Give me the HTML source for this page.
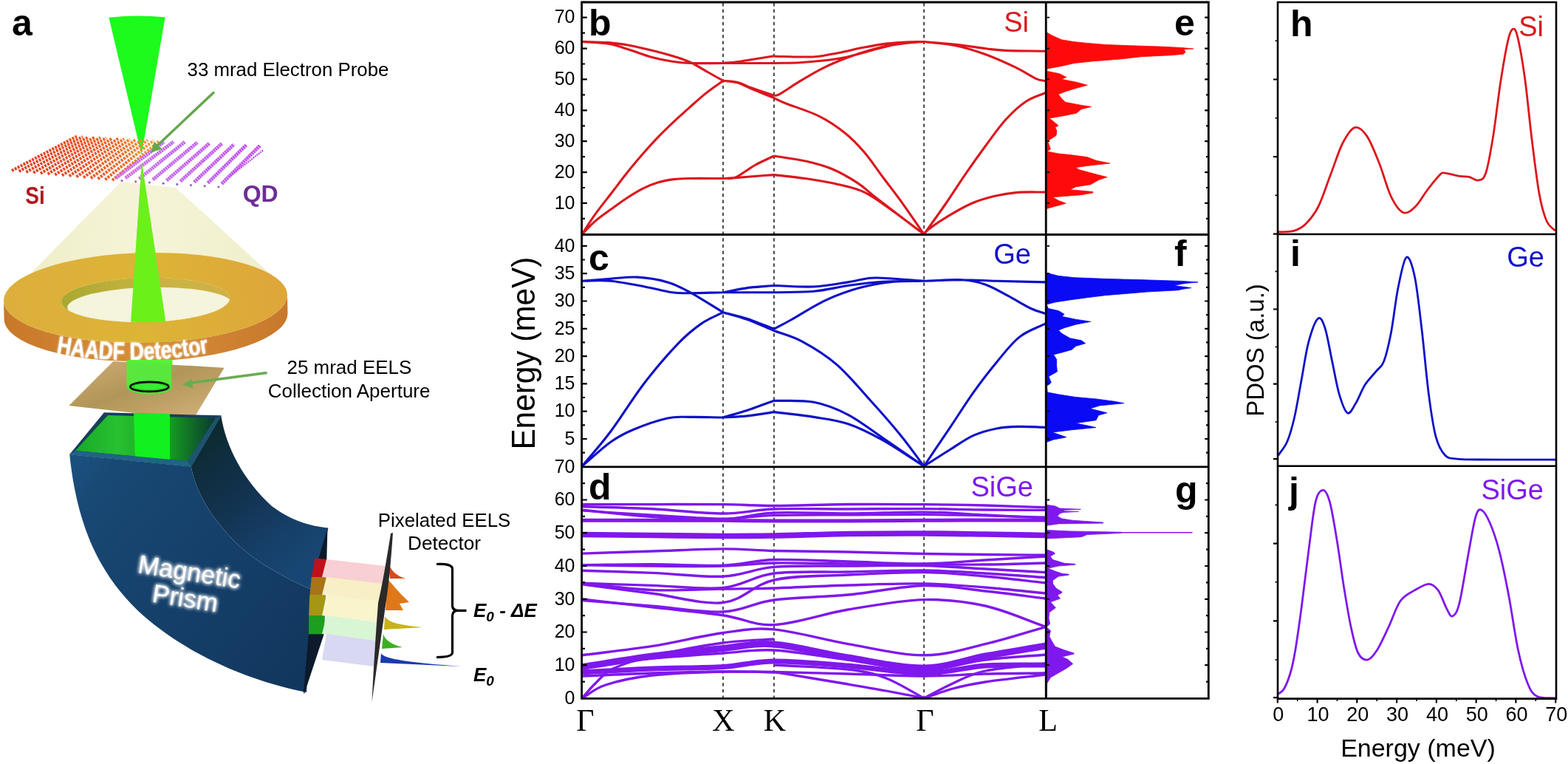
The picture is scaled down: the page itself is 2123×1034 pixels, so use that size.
<!DOCTYPE html>
<html><head><meta charset="utf-8"><title>Figure</title>
<style>html,body{margin:0;padding:0;background:#fff;}body{width:2123px;height:1034px;overflow:hidden;}svg{display:block;}</style>
</head><body>
<svg width="2123" height="1034" viewBox="0 0 2123 1034">
<rect width="2123" height="1034" fill="#fff"/>
<line x1="979" y1="4" x2="979" y2="944" stroke="#000" stroke-width="1.4" stroke-dasharray="4.5 4.1"/>
<line x1="1048" y1="4" x2="1048" y2="944" stroke="#000" stroke-width="1.4" stroke-dasharray="4.5 4.1"/>
<line x1="1251" y1="4" x2="1251" y2="944" stroke="#000" stroke-width="1.4" stroke-dasharray="4.5 4.1"/>
<path d="M788,317C794.1,311 799.7,304.6 806.3,298.9C812.9,293.2 820.5,288.1 827.6,283C834.7,277.9 841.7,272.6 848.8,268C855.9,263.4 863,258.8 870.1,255.3C877.2,251.8 884.3,248.9 891.4,246.8C898.5,244.7 905.6,243.5 912.7,242.6C919.8,241.7 922.9,241.7 933.9,241.5C944.9,241.3 964,241.5 979,241.5M788,317C794.1,307.8 799.7,298.6 806.3,289.4C812.9,280.2 820.5,270.9 827.6,261.7C834.7,252.5 841.7,242.9 848.8,234C855.9,225.1 863,216.7 870.1,208.5C877.2,200.3 884.3,192.5 891.4,185.1C898.5,177.7 905.6,171 912.7,164.3C919.8,157.7 926.8,151.5 933.9,145.2C941,138.9 947.7,132.6 955.2,126.6C962.7,120.6 971.1,115 979,109.2M788,56.4C799.9,56.8 812.9,56.8 823.7,57.6C834.5,58.5 843,59.8 852.7,61.5C862.4,63.2 872,65.6 881.7,68C891.4,70.4 901.8,73 910.7,75.8C919.6,78.5 927,80.8 935,84.5C943,88.2 951.7,93.9 959,98C966.3,102.1 972.3,105.5 979,109.2M788,56.4C799.9,57.4 812.9,57.4 823.7,59.3C834.5,61.1 843,64.5 852.7,67.5C862.4,70.5 872,74.6 881.7,77.2C891.4,79.8 901.8,81.9 910.7,83.3C919.6,84.7 923.6,85.1 935,85.5C946.4,85.9 964.3,85.5 979,85.5M979,241.5C984.7,241.2 988.8,241.1 996,240.6C1003.2,240.1 1013.3,239.2 1022,238.5C1030.7,237.8 1039.3,237.2 1048,236.6M979,241.5C984.7,241 988.8,243 996,240C1003.2,237 1013.5,228.3 1022.2,223.5C1030.9,218.7 1039.4,215.2 1048,211M979,109.2C985.7,110 992.4,109.9 999,111.6C1005.6,113.3 1010.2,116.3 1018.4,119.3C1026.6,122.3 1038.1,126 1048,129.4M979,109.2C985.7,110.1 992.4,110.1 999,112C1005.6,113.9 1010.2,117.1 1018.4,120.5C1026.6,123.9 1038.1,128.6 1048,132.6M979,85.5L1048,85.5M979,85.5C985.7,84.8 991.6,84.5 999,83.5C1006.4,82.5 1015,81 1023.2,79.7C1031.4,78.4 1039.7,77.1 1048,75.8M1048,76C1052,76.2 1050.7,76.4 1060,76.5C1069.3,76.6 1091.2,77.5 1103.8,76.7C1116.4,75.9 1125,73.4 1135.7,71.4C1146.4,69.4 1157.1,66.5 1167.7,64.5C1178.3,62.5 1189,60.4 1199.6,59.1C1210.2,57.8 1222.9,57.1 1231.5,56.7C1240.1,56.3 1244.5,56.6 1251,56.5M1048,85.5C1059.5,85.2 1071.5,85.3 1082.6,84.7C1093.7,84.1 1103.9,83.2 1114.5,82C1125.1,80.8 1135.8,79.4 1146.4,77.2C1157,75 1167.7,71.5 1178.3,68.7C1188.9,66 1199.6,62.7 1210.2,60.7C1220.8,58.8 1235.3,57.7 1242.1,57C1248.9,56.3 1248,56.7 1251,56.5M1048,129.4C1050.7,128.7 1050.2,130.4 1056,127.2C1061.8,124 1072.8,116.1 1082.6,110.2C1092.3,104.3 1103.9,97.4 1114.5,92.1C1125.1,86.8 1135.8,82.4 1146.4,78.3C1157,74.2 1167.7,70.7 1178.3,67.7C1188.9,64.7 1199.6,62 1210.2,60.2C1220.8,58.4 1235.3,57.6 1242.1,57C1248.9,56.4 1248,56.7 1251,56.5M1048,132.6C1053.3,135.1 1053.8,135.9 1064,140C1074.2,144.1 1096,150.7 1109.3,157.4C1122.6,164.1 1133.8,171.9 1144,180C1154.2,188.1 1161.5,195.9 1170.2,206.1C1178.9,216.3 1187.6,229.4 1196.3,241C1205,252.6 1213.3,263.1 1222.4,275.8C1231.5,288.5 1241.5,303.3 1251,317M1048,211C1062.6,213.4 1078.7,215.3 1091.8,218.3C1104.9,221.3 1115.1,223.9 1126.7,228.8C1138.3,233.7 1151.3,241.2 1161.5,247.9C1171.7,254.6 1172.7,257.3 1187.6,268.8C1202.5,280.3 1229.9,300.9 1251,317M1048,236.6C1062.6,238.3 1077.2,239.6 1091.8,241.8C1106.4,244 1122.3,246.6 1135.4,249.7C1148.5,252.8 1158.6,254.6 1170.2,260.1C1181.8,265.6 1191.5,273.2 1205,282.7C1218.5,292.2 1235.7,305.6 1251,317M1251,56.5C1265.4,57.8 1280.1,58.8 1294.1,60.3C1308,61.8 1323.4,64.3 1334.7,65.7C1346,67.1 1348.2,67.8 1361.8,68.4C1375.3,69 1397.9,68.9 1416,69.2M1251,56.5C1265.4,58.2 1280.1,58.8 1294.1,61.7C1308,64.6 1321.2,68.8 1334.7,73.8C1348.2,78.8 1364.1,86 1375.4,91.4C1386.7,96.8 1395.6,103.2 1402.4,106.3C1409.2,109.4 1411.5,108.6 1416,109.8M1251,317C1260.9,303.2 1271.1,289.2 1280.6,275.5C1290,261.8 1298.7,248 1307.7,234.9C1316.7,221.8 1325.7,209.2 1334.7,197C1343.7,184.8 1352.8,171.7 1361.8,161.8C1370.8,151.9 1379.9,143.6 1388.9,137.5C1397.9,131.4 1407,129.4 1416,125.3M1251,317C1253.3,314.6 1252.8,313.6 1258,309.7C1263.2,305.8 1272.7,299.2 1282,293.6C1291.3,288 1303.3,280.7 1314,276C1324.7,271.3 1335.3,268.2 1346,265.6C1356.7,263 1366.3,261.3 1378,260.4C1389.7,259.5 1403.3,260.1 1416,260" fill="none" stroke="#dc161e" stroke-width="3.1" stroke-linejoin="round"/>
<path d="M788,631C800.8,620.2 814.8,606.8 826.4,598.5C838,590.2 844.5,586.9 857.4,581.5C870.3,576.1 890.9,568.9 903.8,566C916.7,563.1 922.2,564.6 934.7,564.4C947.2,564.2 964.2,564.8 979,565M788,631C800.8,615.5 812.3,603.3 826.4,584.5C840.5,565.7 857.3,538.1 872.8,518C888.3,497.9 906.3,477.3 919.2,463.9C932.1,450.5 940.2,444.5 950.2,437.6C960.2,430.7 969.4,427.7 979,422.7M788,380.3C800.8,379.3 813.8,378.1 826.4,377.2C839,376.3 850.6,374.3 863.5,375.1C876.4,375.9 891.9,378.4 903.8,381.9C915.7,385.3 922.2,389 934.7,395.8C947.2,402.6 964.2,413.7 979,422.7M788,380.3C800.8,380.3 812.3,379 826.4,380.3C840.5,381.6 858.9,385.4 872.8,388C886.7,390.6 899.7,394.4 910,395.8C920.3,397.2 923.2,396.7 934.7,396.7C946.2,396.7 964.2,396.1 979,395.8M979,395.8C990,393.7 1000.5,391.2 1012,389.6C1023.5,388.1 1036,387.5 1048,386.5M979,395.8L1048,395.8M979,422.7C990,425.6 1000.5,427.6 1012,431.4C1023.5,435.2 1036,440.7 1048,445.3M979,422.7C990,426 1000.5,428.4 1012,432.5C1023.5,436.6 1036,442.5 1048,447.5M979,565C990,564.3 1000.5,564.1 1012,562.9C1023.5,561.7 1036,559.4 1048,557.6M979,565C990,561.7 1000.5,559 1012,555.2C1023.5,551.4 1036,546.5 1048,542.2M1048,386.5C1066,387 1085.2,388.8 1101.9,388C1118.6,387.2 1135.4,383.8 1148.3,381.9C1161.2,379.9 1168.9,377.1 1179.2,376.3C1189.5,375.5 1198.2,376.5 1210.2,377.2C1222.2,377.9 1237.4,379.3 1251,380.3M1048,395.8C1066,395.3 1085.2,395.9 1101.9,394.3C1118.6,392.8 1132.8,388.7 1148.3,386.5C1163.8,384.3 1177.6,382.3 1194.7,381.3C1211.8,380.3 1232.2,380.6 1251,380.3M1048,445.3C1055.6,441.2 1059.3,439.4 1070.9,433C1082.5,426.6 1101.9,413.8 1117.4,406.6C1132.9,399.4 1148.3,393.8 1163.8,389.6C1179.3,385.4 1195.7,382.9 1210.2,381.3C1224.7,379.8 1237.4,380.6 1251,380.3M1048,447.5C1060.8,452.4 1072.3,454.7 1086.4,462.3C1100.5,469.9 1117.3,479.9 1132.8,493.3C1148.3,506.7 1164.8,526.8 1179.2,542.8C1193.7,558.8 1207.5,574.5 1219.5,589.2C1231.5,603.9 1240.5,617.1 1251,631M1048,542.2C1066,542.9 1085.2,541.1 1101.9,544.3C1118.6,547.5 1132.8,553.3 1148.3,561.3C1163.8,569.3 1177.6,580.7 1194.7,592.3C1211.8,603.9 1232.2,618.1 1251,631M1048,557.6C1066,559.9 1085.2,561.7 1101.9,564.4C1118.6,567.1 1132.8,568.5 1148.3,573.7C1163.8,578.9 1177.6,585.9 1194.7,595.4C1211.8,604.9 1232.2,619.1 1251,631M1251,380.3C1268.3,379.8 1286.6,378.8 1303,378.8C1319.4,378.8 1330.6,379.8 1349.4,380.3C1368.2,380.8 1393.8,381.4 1416,381.9M1251,380.3C1268.3,379.8 1289.2,378 1303,378.8C1316.8,379.6 1323.6,381.4 1333.9,385C1344.2,388.6 1354.6,395 1364.9,400.4C1375.2,405.8 1387.3,413.5 1395.8,417.5C1404.3,421.5 1409.3,422.2 1416,424.6M1251,631C1263.2,612.9 1276.2,593.6 1287.5,576.8C1298.8,560 1308.2,544.8 1318.5,530.4C1328.8,516 1339.1,502.6 1349.4,490.2C1359.7,477.8 1369.2,464.9 1380.3,456.1C1391.4,447.3 1404.1,443.8 1416,437.6M1251,631C1263.2,623.2 1276.2,614.7 1287.5,607.7C1298.8,600.7 1308.2,593.8 1318.5,589.2C1328.8,584.6 1339.1,581.9 1349.4,579.9C1359.7,577.9 1369.2,577.6 1380.3,577.4C1391.4,577.1 1404.1,578.1 1416,578.4" fill="none" stroke="#1010c8" stroke-width="3.1" stroke-linejoin="round"/>
<path d="M788,682.6C819.8,682.6 851.7,682.6 883.5,682.6C915.3,682.6 951.6,682.3 979,682.6C1006.4,682.9 1019.8,684.5 1048,684.5C1076.2,684.5 1114.5,682.8 1148.3,682.5C1182.1,682.2 1220,682.4 1251,682.6C1282,682.9 1306.5,683.3 1334,684C1361.5,684.7 1388.7,685.9 1416,686.8" fill="none" stroke="#7f18ec" stroke-width="3.4"/>
<path d="M788,685.5C819.8,686.6 851.7,687.2 883.5,688.8C915.3,690.4 951.6,695 979,695C1006.4,695 1019.8,690 1048,689C1076.2,688 1114.5,689.1 1148.3,689C1182.1,688.9 1220,688.4 1251,688.6C1282,688.8 1306.5,689.7 1334,690C1361.5,690.3 1388.7,690.3 1416,690.4" fill="none" stroke="#7f18ec" stroke-width="3.4"/>
<path d="M788,690.3C819.8,693.4 851.7,697.5 883.5,699.6C915.3,701.7 951.6,703.6 979,702.7C1006.4,701.8 1019.8,695.3 1048,694C1076.2,692.7 1114.5,695.1 1148.3,695C1182.1,694.9 1220,692.8 1251,693.1C1282,693.4 1306.5,695.6 1334,697C1361.5,698.4 1388.7,699.8 1416,701.2" fill="none" stroke="#7f18ec" stroke-width="3.4"/>
<path d="M788,704.3C819.8,704.3 851.7,704.3 883.5,704.3C915.3,704.3 951.6,704.2 979,704.3C1006.4,704.4 1019.8,704.9 1048,705C1076.2,705.1 1114.5,705.1 1148.3,705C1182.1,704.9 1220,704.5 1251,704.3C1282,704.1 1306.5,704 1334,704C1361.5,704 1388.7,704 1416,704" fill="none" stroke="#7f18ec" stroke-width="5.0"/>
<path d="M788,723.5C819.8,723.8 851.7,724.2 883.5,724.5C915.3,724.8 951.6,725.4 979,725.5C1006.4,725.6 1019.8,725.5 1048,725C1076.2,724.5 1114.5,723 1148.3,722.5C1182.1,722 1220,721.9 1251,722C1282,722.1 1306.5,722.6 1334,723C1361.5,723.4 1388.7,724 1416,724.5" fill="none" stroke="#7f18ec" stroke-width="7.6"/>
<path d="M788,691C819.8,693 851.7,695.2 883.5,697C915.3,698.8 951.6,701.9 979,702C1006.4,702.1 1019.8,698.4 1048,697.6C1076.2,696.8 1114.5,697.2 1148.3,697C1182.1,696.8 1220,696.3 1251,696.5C1282,696.7 1306.5,697.4 1334,698C1361.5,698.6 1388.7,699.3 1416,700" fill="none" stroke="#7f18ec" stroke-width="3.0"/>
<path d="M788,749.1C819.8,748.1 851.7,747 883.5,746C915.3,745 951.6,743 979,742.9C1006.4,742.8 1019.8,744.8 1048,745.5C1076.2,746.2 1114.5,746.3 1148.3,747C1182.1,747.7 1220,748.9 1251,749.5C1282,750.1 1306.5,750.2 1334,750.5C1361.5,750.8 1388.7,751 1416,751.3" fill="none" stroke="#7f18ec" stroke-width="3.4"/>
<path d="M788,764.6C819.8,764.3 851.7,763.6 883.5,763.7C915.3,763.8 951.6,766.2 979,765.2C1006.4,764.2 1019.8,758.4 1048,757.5C1076.2,756.6 1114.5,759.1 1148.3,760C1182.1,760.9 1220,763.3 1251,763C1282,762.7 1306.5,759.7 1334,758C1361.5,756.3 1388.7,754.7 1416,753" fill="none" stroke="#7f18ec" stroke-width="3.4"/>
<path d="M788,764.6C819.8,765.1 851.7,765.9 883.5,766.1C915.3,766.4 951.6,766.8 979,766.1C1006.4,765.4 1019.8,762.5 1048,762C1076.2,761.5 1114.5,762.7 1148.3,763C1182.1,763.3 1220,763.8 1251,764C1282,764.2 1306.5,764.3 1334,764C1361.5,763.7 1388.7,762.7 1416,762" fill="none" stroke="#7f18ec" stroke-width="3.4"/>
<path d="M788,772.3C819.8,773.3 851.7,774.1 883.5,775.4C915.3,776.7 951.6,781.4 979,780.1C1006.4,778.8 1019.8,769.8 1048,767.4C1076.2,765 1114.5,766.3 1148.3,766C1182.1,765.7 1220,764.9 1251,765.6C1282,766.3 1306.5,768.5 1334,770C1361.5,771.5 1388.7,773.1 1416,774.6" fill="none" stroke="#7f18ec" stroke-width="3.4"/>
<path d="M788,789.3C819.8,790.3 851.7,791.4 883.5,792.4C915.3,793.4 951.6,798.2 979,795.5C1006.4,792.8 1019.8,779.6 1048,776C1076.2,772.4 1114.5,774.7 1148.3,774C1182.1,773.3 1220,771.7 1251,772C1282,772.3 1306.5,774.4 1334,776C1361.5,777.6 1388.7,779.8 1416,781.7" fill="none" stroke="#7f18ec" stroke-width="3.4"/>
<path d="M788,790.9C819.8,795 851.7,799.2 883.5,803.3C915.3,807.4 951.6,818.6 979,815.6C1006.4,812.6 1019.8,791.3 1048,785C1076.2,778.7 1114.5,779.7 1148.3,778C1182.1,776.3 1220,774.3 1251,774.6C1282,774.9 1306.5,777.6 1334,780C1361.5,782.4 1388.7,786 1416,789" fill="none" stroke="#7f18ec" stroke-width="3.4"/>
<path d="M788,789.3C819.8,792.4 851.7,797.3 883.5,798.6C915.3,799.9 951.6,797.5 979,797.1C1006.4,796.7 1019.8,796.9 1048,796C1076.2,795.1 1114.5,793 1148.3,792C1182.1,791 1220,789.5 1251,790C1282,790.5 1306.5,792.8 1334,795C1361.5,797.2 1388.7,800.3 1416,803" fill="none" stroke="#7f18ec" stroke-width="3.4"/>
<path d="M788,811C819.8,814.6 851.7,818.2 883.5,821.8C915.3,825.4 951.6,828.7 979,832.7C1006.4,836.7 1019.8,846.9 1048,845.6C1076.2,844.3 1114.5,830.7 1148.3,825C1182.1,819.3 1220,812.4 1251,811.6C1282,810.8 1306.5,813.9 1334,820C1361.5,826.1 1388.7,838.9 1416,848.3" fill="none" stroke="#7f18ec" stroke-width="3.4"/>
<path d="M788,812.5C819.8,815.1 851.7,817.7 883.5,820.3C915.3,822.9 951.6,829.4 979,828C1006.4,826.6 1019.8,815.8 1048,812C1076.2,808.2 1114.5,808.2 1148.3,805C1182.1,801.8 1220,793.3 1251,792.5C1282,791.7 1306.5,797.1 1334,800C1361.5,802.9 1388.7,806.7 1416,810" fill="none" stroke="#7f18ec" stroke-width="3.4"/>
<path d="M788,886.8C819.8,882.7 851.7,879.4 883.5,874.4C915.3,869.4 951.6,860.2 979,856.5C1006.4,852.8 1019.8,849.4 1048,851.9C1076.2,854.4 1114.5,865.8 1148.3,871.6C1182.1,877.4 1220,886.8 1251,886.8C1282,886.8 1306.5,878 1334,871.6C1361.5,865.2 1388.7,856.1 1416,848.3" fill="none" stroke="#7f18ec" stroke-width="3.4"/>
<path d="M788,902.5C819.8,897.7 851.7,892.2 883.5,888C915.3,883.8 951.6,880.2 979,877.5C1006.4,874.8 1019.8,869.9 1048,872C1076.2,874.1 1114.5,884.7 1148.3,890C1182.1,895.3 1220,904.3 1251,904C1282,903.7 1306.5,893 1334,888C1361.5,883 1388.7,878.7 1416,874" fill="none" stroke="#7f18ec" stroke-width="9.0"/>
<path d="M788,910C819.8,908.3 851.7,906.2 883.5,905C915.3,903.8 951.6,904.2 979,902.5C1006.4,900.8 1019.8,895.2 1048,895C1076.2,894.8 1114.5,898.3 1148.3,901C1182.1,903.7 1220,911 1251,911C1282,911 1306.5,902.8 1334,901C1361.5,899.2 1388.7,900.3 1416,900" fill="none" stroke="#7f18ec" stroke-width="7.0"/>
<path d="M788,915C819.8,913.7 851.7,912 883.5,911C915.3,910 951.6,909.2 979,909C1006.4,908.8 1019.8,909 1048,909.5C1076.2,910 1114.5,911.1 1148.3,912C1182.1,912.9 1220,915 1251,915C1282,915 1306.5,912.7 1334,912C1361.5,911.3 1388.7,911.3 1416,911" fill="none" stroke="#7f18ec" stroke-width="3.4"/>
<path d="M788,900C819.8,897 851.7,893.7 883.5,891C915.3,888.3 951.6,885.8 979,884C1006.4,882.2 1019.8,878.5 1048,880C1076.2,881.5 1114.5,888.7 1148.3,893C1182.1,897.3 1220,906 1251,906C1282,906 1306.5,896.3 1334,893C1361.5,889.7 1388.7,888.3 1416,886" fill="none" stroke="#7f18ec" stroke-width="3.4"/>
<path d="M788,945C798.7,939 804.1,932.2 820,927C835.9,921.8 857,917 883.5,914C910,911 951.6,909.7 979,909C1006.4,908.3 1025,909.7 1048,910" fill="none" stroke="#7f18ec" stroke-width="3.3"/>
<path d="M788,945C794,938.3 799,931.7 806,925C813,918.3 817.1,911.2 830,905C842.9,898.8 858.7,893.8 883.5,888C908.3,882.2 951.6,873.8 979,870C1006.4,866.2 1025,866.7 1048,865" fill="none" stroke="#7f18ec" stroke-width="3.3"/>
<path d="M1048,909.5C1065.3,912.3 1083.3,915.2 1100,918C1116.7,920.8 1131.6,923.2 1148.3,926C1165,928.8 1182.9,931.8 1200,935C1217.1,938.2 1234,941.7 1251,945" fill="none" stroke="#7f18ec" stroke-width="3.3"/>
<path d="M1048,900C1081.4,902 1123,903 1148.3,906C1173.6,909 1182.9,911.5 1200,918C1217.1,924.5 1234,936 1251,945" fill="none" stroke="#7f18ec" stroke-width="3.3"/>
<path d="M1251,945C1264,938.3 1276.2,931.2 1290,925C1303.8,918.8 1313,912.5 1334,908C1355,903.5 1388.7,901.3 1416,898" fill="none" stroke="#7f18ec" stroke-width="3.3"/>
<path d="M1251,945C1264,940.7 1276.2,935.7 1290,932C1303.8,928.3 1313,926.2 1334,923C1355,919.8 1388.7,916.3 1416,913" fill="none" stroke="#7f18ec" stroke-width="3.3"/>
<path d="M1417,43.5L1416.8,43.5L1423.5,47.6L1437.0,53.7L1453.3,56.4L1472.3,58.4L1498.0,60.5L1531.8,61.8L1575.2,63.2L1599.5,64.5L1615.8,65.9L1603.0,66.8L1603.6,67.9L1605.0,70.6L1602.0,73.3L1586.0,74.7L1545.0,76.7L1515.6,80.1L1480.4,82.8L1454.7,85.5L1437.0,89.6L1418.0,93.0L1417.4,96.3L1434.4,99.7L1443.8,104.5L1437.0,107.2L1457.4,111.2L1472.3,115.3L1457.4,119.3L1443.8,123.4L1433.0,127.5L1437.0,132.9L1442.5,138.3L1464.0,142.4L1477.7,144.4L1464.0,147.8L1457.4,153.2L1437.0,157.3L1420.8,160.0L1427.6,165.4L1433.0,170.0L1428.6,172.4L1430.9,177.0L1430.1,183.2L1418.5,191.0L1420.8,197.2L1422.4,201.8L1417.7,204.9L1433.2,208.0L1448.7,209.5L1471.9,212.6L1484.3,217.3L1502.9,221.1L1479.7,223.5L1456.4,226.6L1461.1,229.7L1484.3,235.9L1499.0,239.7L1487.4,243.6L1476.6,249.8L1456.4,252.9L1448.7,256.7L1479.7,259.5L1479.7,261.0L1464.2,263.7L1425.5,266.8L1433.2,271.5L1443.3,275.3L1428.6,279.2L1417.7,282.3L1417,282.3Z" fill="#ff0a0a" stroke="#ff0a0a" stroke-width="0.8"/>
<path d="M1417,369.5L1417.7,369.5L1433.2,373.4L1454.9,375.7L1495.1,377.3L1549.3,378.8L1600.4,380.4L1622.0,381.9L1610.0,383.0L1600.4,384.2L1589.5,386.6L1605.0,388.5L1612.8,389.6L1600.0,391.5L1595.7,392.7L1552.4,395.1L1524.5,397.4L1496.7,399.7L1471.9,402.8L1448.7,405.9L1428.6,409.0L1417.0,412.1L1419.3,417.5L1433.2,420.6L1441.0,425.2L1437.9,428.3L1456.4,432.2L1476.6,435.3L1456.4,439.2L1441.0,443.8L1433.2,446.9L1437.9,451.6L1448.7,457.7L1464.2,460.8L1469.6,464.7L1456.4,468.6L1451.1,473.3L1439.6,476.6L1426.4,479.9L1430.6,486.4L1430.6,494.7L1431.4,502.9L1419.9,509.5L1423.2,517.7L1417.4,522.6L1418.2,530.9L1434.7,534.1L1456.0,537.4L1484.0,539.9L1508.7,543.2L1521.8,545.7L1489.0,548.9L1475.8,553.1L1489.0,556.3L1498.8,558.8L1487.3,562.1L1484.0,568.7L1456.0,572.8L1472.5,576.1L1484.0,578.6L1451.1,581.8L1424.8,585.1L1434.7,588.4L1443.7,591.7L1426.4,595.0L1417.4,598.3L1417,598.3Z" fill="#0a0af5" stroke="#0a0af5" stroke-width="0.8"/>
<path d="M1417,683.3L1417.0,683.3L1428.6,684.9L1434.8,688.0L1463.4,689.3L1440.0,690.3L1441.0,691.8L1460.3,692.4L1440.0,693.4L1434.8,695.0L1431.7,698.8L1437.9,701.9L1451.8,704.2L1493.6,707.1L1493.6,708.1L1433.2,708.9L1417.0,711.2L1417.0,717.4L1448.7,718.9L1518.3,720.2L1518.3,721.4L1471.9,723.6L1464.2,726.7L1417.0,729.0L1417.0,743.7L1425.5,746.8L1428.6,749.1L1422.0,753.0L1425.5,757.6L1441.0,762.3L1455.7,763.3L1455.7,764.3L1433.0,766.1L1419.0,769.2L1428.6,773.1L1437.9,776.2L1447.1,777.2L1447.1,778.2L1433.0,780.1L1425.5,785.5L1425.5,790.0L1430.0,796.2L1437.9,801.1L1437.9,802.1L1431.7,805.5L1435.5,810.1L1422.4,814.8L1429.3,822.5L1420.8,828.7L1420.0,836.4L1421.6,844.2L1417.0,848.8L1422.4,853.5L1420.8,861.2L1424.0,867.4L1428.6,875.1L1441.0,879.8L1454.1,884.0L1454.1,885.0L1437.9,889.1L1445.6,892.2L1452.6,898.4L1444.0,904.6L1433.2,910.7L1422.4,916.9L1417.7,924.7L1417.0,944.0L1417,944.0Z" fill="#7f18ec" stroke="#7f18ec" stroke-width="0.8"/>
<line x1="1518" y1="720.8" x2="1614.5" y2="720.8" stroke="#7f18ec" stroke-width="1.6"/>
<path d="M1730.7,314C1737.8,313.5 1745.7,314.3 1752,312.4C1758.3,310.5 1763,308 1768.5,302.5C1774,297 1779.5,290.4 1785,279.5C1790.5,268.6 1795.9,251.1 1801.4,236.8C1806.9,222.6 1812.3,204.7 1817.8,194C1823.3,183.3 1828.8,174.2 1834.3,172.6C1839.8,170.9 1845.2,176.1 1850.7,184.1C1856.2,192.1 1861.7,206.6 1867.2,220.3C1872.7,234 1878.1,255.2 1883.6,266.4C1889.1,277.6 1894.5,285.5 1900,287.7C1905.5,289.9 1911,284.7 1916.5,279.5C1922,274.3 1927.5,263.6 1933,256.5C1938.5,249.4 1945.6,240.5 1949.4,236.8C1953.2,233.1 1951.6,233.8 1956,234.1C1960.4,234.4 1970.2,237.5 1975.7,238.4C1981.2,239.3 1984.4,238.5 1988.8,239.4C1993.2,240.3 1998.2,245 2002,244C2005.8,243 2008.6,243.5 2011.9,233.5C2015.2,223.5 2018.4,204.4 2021.7,184.1C2025,163.8 2028.3,133.2 2031.6,111.8C2034.9,90.4 2038.8,68 2041.5,55.9C2044.2,43.9 2045.8,40.6 2048,39.5C2050.2,38.4 2051.8,38.3 2054.6,49.3C2057.3,60.2 2061.2,81.6 2064.5,105.2C2067.8,128.8 2071,164.4 2074.3,190.7C2077.6,217 2080.9,245 2084.2,263.1C2087.5,281.2 2090.5,291 2094.1,299.2C2097.7,307.4 2101.8,308 2105.6,312.4" fill="none" stroke="#dc161e" stroke-width="2.8"/>
<path d="M1730.8,616.3C1734.9,609.9 1739.4,605.7 1743,597.2C1746.6,588.7 1749.3,579.1 1752.5,565.3C1755.7,551.5 1758.9,531.2 1762.1,514.2C1765.3,497.2 1768,477 1771.7,463.2C1775.4,449.4 1780.7,434.5 1784.4,431.3C1788.1,428.1 1790.8,434.4 1794,444C1797.2,453.6 1800.4,473.8 1803.6,488.7C1806.8,503.6 1809.8,521.7 1813.2,533.4C1816.7,545.1 1820.6,556.8 1824.3,558.9C1828,561 1831.5,552.5 1835.5,546.1C1839.5,539.7 1843.5,528.1 1848.3,520.6C1853.1,513.1 1860,506.7 1864.2,501.4C1868.5,496.1 1870.6,497.2 1873.8,488.7C1877,480.2 1880.2,466.9 1883.4,450.4C1886.6,433.9 1889.5,406.8 1892.9,389.8C1896.4,372.8 1900.4,351 1904.1,348.3C1907.8,345.6 1911.8,357.9 1915.3,373.8C1918.8,389.8 1921.6,417.4 1924.8,444C1928,470.6 1931.2,508.9 1934.4,533.4C1937.6,557.9 1940.3,577 1944,590.8C1947.7,604.6 1951.9,611.2 1956.7,616.3C1961.5,621.3 1965.5,620.1 1972.7,621.1C1979.9,622.1 1977.7,621.8 2000,622C2022.3,622.2 2071.1,622.1 2106.7,622.1" fill="none" stroke="#1010c8" stroke-width="2.8"/>
<path d="M1730.8,939.3C1733.4,937 1735.8,937.1 1738.5,932.3C1741.2,927.5 1744.7,919.2 1747.2,910.5C1749.8,901.8 1751.3,894.6 1753.8,880C1756.3,865.4 1759.1,845.1 1762.1,822.8C1765.1,800.5 1768.5,770.2 1771.7,746.3C1774.9,722.4 1777.9,693 1781.2,679.2C1784.5,665.4 1788.3,663.3 1791.5,663.3C1794.7,663.3 1797.3,668 1800.4,679.2C1803.5,690.4 1806.8,711.1 1810,730.3C1813.2,749.4 1816.3,774.4 1819.5,794.1C1822.7,813.8 1825.9,833.5 1829.1,848.4C1832.3,863.3 1835,876.1 1838.7,883.5C1842.4,890.9 1847.2,893.5 1851.4,893C1855.7,892.5 1859.4,887.7 1864.2,880.3C1869,872.9 1874.9,859.6 1880.2,848.4C1885.5,837.2 1890.2,821.5 1896.1,813.3C1901.9,805 1908.9,802.7 1915.3,798.9C1921.7,795.1 1929.1,790.3 1934.4,790.3C1939.7,790.3 1943.2,793.5 1947.2,798.9C1951.2,804.3 1955.1,816.9 1958.3,822.8C1961.5,828.6 1963.4,835 1966.3,834C1969.2,833 1972.2,831.1 1975.9,816.5C1979.6,801.9 1985,766 1988.7,746.3C1992.4,726.6 1995.3,707.7 1998.2,698.4C2001.1,689.1 2003,688.8 2006.2,690.4C2009.4,692 2013.4,698.7 2017.4,708C2021.4,717.3 2025.8,729.8 2030.1,746.3C2034.3,762.8 2038.7,784.6 2042.9,806.9C2047.2,829.2 2051.3,860.6 2055.6,880.3C2059.8,900 2064.1,914.6 2068.4,925C2072.7,935.4 2074.8,939.2 2081.2,942.5C2087.6,945.8 2098.2,944.2 2106.7,945" fill="none" stroke="#7f18ec" stroke-width="2.8"/>
<path d="M787.6,3H1636.3V945.3H787.6Z M787.6,317.5H1636.3 M787.6,631.8H1636.3 M1416.2,3V945.3" fill="none" stroke="#000" stroke-width="2.8"/>
<path d="M1730,3H2107V945.6H1730Z M1730,317H2107 M1730,630.7H2107" fill="none" stroke="#000" stroke-width="2.6"/>
<path d="M789.0,274.9h5.8M789.0,233.1h5.8M789.0,191.2h5.8M789.0,149.3h5.8M789.0,107.4h5.8M789.0,65.6h5.8M789.0,23.7h5.8M789.0,594.0h5.8M789.0,556.7h5.8M789.0,519.4h5.8M789.0,482.1h5.8M789.0,444.8h5.8M789.0,407.5h5.8M789.0,370.2h5.8M789.0,332.9h5.8M789.0,900.2h5.8M789.0,855.5h5.8M789.0,810.8h5.8M789.0,766.0h5.8M789.0,721.2h5.8M789.0,676.5h5.8" stroke="#000" stroke-width="2.2" fill="none"/>
<path d="M789.0,295.9h3.0M789.0,254.0h3.0M789.0,212.1h3.0M789.0,170.3h3.0M789.0,128.4h3.0M789.0,86.5h3.0M789.0,44.6h3.0M789.0,2.8h3.0M789.0,612.6h3.0M789.0,575.3h3.0M789.0,538.0h3.0M789.0,500.7h3.0M789.0,463.4h3.0M789.0,426.1h3.0M789.0,388.8h3.0M789.0,351.5h3.0M789.0,922.6h3.0M789.0,877.9h3.0M789.0,833.1h3.0M789.0,788.4h3.0M789.0,743.6h3.0M789.0,698.9h3.0M789.0,654.1h3.0" stroke="#000" stroke-width="2.2" fill="none"/>
<path d="M1635.2,274.9h-4.0M1635.2,233.1h-4.0M1635.2,191.2h-4.0M1635.2,149.3h-4.0M1635.2,107.4h-4.0M1635.2,65.6h-4.0M1635.2,23.7h-4.0M1635.2,594.0h-4.0M1635.2,556.7h-4.0M1635.2,519.4h-4.0M1635.2,482.1h-4.0M1635.2,444.8h-4.0M1635.2,407.5h-4.0M1635.2,370.2h-4.0M1635.2,332.9h-4.0M1635.2,900.2h-4.0M1635.2,855.5h-4.0M1635.2,810.8h-4.0M1635.2,766.0h-4.0M1635.2,721.2h-4.0M1635.2,676.5h-4.0" stroke="#000" stroke-width="2.2" fill="none"/>
<path d="M1635.2,295.9h-2.2M1635.2,254.0h-2.2M1635.2,212.1h-2.2M1635.2,170.3h-2.2M1635.2,128.4h-2.2M1635.2,86.5h-2.2M1635.2,44.6h-2.2M1635.2,2.8h-2.2M1635.2,612.6h-2.2M1635.2,575.3h-2.2M1635.2,538.0h-2.2M1635.2,500.7h-2.2M1635.2,463.4h-2.2M1635.2,426.1h-2.2M1635.2,388.8h-2.2M1635.2,351.5h-2.2M1635.2,922.6h-2.2M1635.2,877.9h-2.2M1635.2,833.1h-2.2M1635.2,788.4h-2.2M1635.2,743.6h-2.2M1635.2,698.9h-2.2M1635.2,654.1h-2.2" stroke="#000" stroke-width="2.2" fill="none"/>
<path d="M1417.5,274.9h3.5M1417.5,233.1h3.5M1417.5,191.2h3.5M1417.5,149.3h3.5M1417.5,107.4h3.5M1417.5,65.6h3.5M1417.5,23.7h3.5M1417.5,594.0h3.5M1417.5,556.7h3.5M1417.5,519.4h3.5M1417.5,482.1h3.5M1417.5,444.8h3.5M1417.5,407.5h3.5M1417.5,370.2h3.5M1417.5,332.9h3.5M1417.5,900.2h3.5M1417.5,855.5h3.5M1417.5,810.8h3.5M1417.5,766.0h3.5M1417.5,721.2h3.5M1417.5,676.5h3.5" stroke="#000" stroke-width="1.8" fill="none"/>
<path d="M1729.0,316.7h-5.0M1729.0,212.1h-5.0M1729.0,107.5h-5.0M1729.0,621.1h-5.0M1729.0,519.6h-5.0M1729.0,418.5h-5.0M1729.0,944.1h-5.0M1729.0,840.4h-5.0M1729.0,735.7h-5.0" stroke="#000" stroke-width="2.2" fill="none"/>
<path d="M1729.0,264.4h-2.5M1729.0,159.8h-2.5M1729.0,55.2h-2.5M1729.0,571.0h-2.5M1729.0,469.5h-2.5M1729.0,367.4h-2.5M1729.0,893.0h-2.5M1729.0,787.7h-2.5M1729.0,683.4h-2.5" stroke="#000" stroke-width="1.6" fill="none"/>
<path d="M1729.8,946.5v5.0M1783.6,946.5v5.0M1837.3,946.5v5.0M1891.1,946.5v5.0M1944.9,946.5v5.0M1998.7,946.5v5.0M2052.4,946.5v5.0M2106.2,946.5v5.0" stroke="#000" stroke-width="2.2" fill="none"/>
<path d="M1756.7,946.5v2.5M1810.5,946.5v2.5M1864.2,946.5v2.5M1918.0,946.5v2.5M1971.8,946.5v2.5M2025.6,946.5v2.5M2079.3,946.5v2.5" stroke="#000" stroke-width="1.6" fill="none"/>
<g font-family="'Liberation Sans', Arial, Helvetica, sans-serif" fill="#000"><text x="778.5" y="282.6" text-anchor="end" font-size="25">10</text><text x="778.5" y="240.8" text-anchor="end" font-size="25">20</text><text x="778.5" y="198.9" text-anchor="end" font-size="25">30</text><text x="778.5" y="157.0" text-anchor="end" font-size="25">40</text><text x="778.5" y="115.1" text-anchor="end" font-size="25">50</text><text x="778.5" y="73.3" text-anchor="end" font-size="25">60</text><text x="778.5" y="31.4" text-anchor="end" font-size="25">70</text><text x="778.5" y="601.7" text-anchor="end" font-size="25">5</text><text x="778.5" y="564.4" text-anchor="end" font-size="25">10</text><text x="778.5" y="527.1" text-anchor="end" font-size="25">15</text><text x="778.5" y="489.8" text-anchor="end" font-size="25">20</text><text x="778.5" y="452.5" text-anchor="end" font-size="25">25</text><text x="778.5" y="415.2" text-anchor="end" font-size="25">30</text><text x="778.5" y="377.9" text-anchor="end" font-size="25">35</text><text x="778.5" y="340.6" text-anchor="end" font-size="25">40</text><text x="778.5" y="952.7" text-anchor="end" font-size="25">0</text><text x="778.5" y="908.0" text-anchor="end" font-size="25">10</text><text x="778.5" y="863.2" text-anchor="end" font-size="25">20</text><text x="778.5" y="818.5" text-anchor="end" font-size="25">30</text><text x="778.5" y="773.7" text-anchor="end" font-size="25">40</text><text x="778.5" y="729.0" text-anchor="end" font-size="25">50</text><text x="778.5" y="684.2" text-anchor="end" font-size="25">60</text><text x="778.5" y="639.5" text-anchor="end" font-size="25">70</text><text x="1730.8" y="976.3" text-anchor="middle" font-size="27">0</text><text x="1784.6" y="976.3" text-anchor="middle" font-size="27">10</text><text x="1838.3" y="976.3" text-anchor="middle" font-size="27">20</text><text x="1892.1" y="976.3" text-anchor="middle" font-size="27">30</text><text x="1945.9" y="976.3" text-anchor="middle" font-size="27">40</text><text x="1999.7" y="976.3" text-anchor="middle" font-size="27">50</text><text x="2053.4" y="976.3" text-anchor="middle" font-size="27">60</text><text x="2107.2" y="976.3" text-anchor="middle" font-size="27">70</text></g>
<g font-family="'Liberation Serif', 'Times New Roman', serif" font-size="42" fill="#000" text-anchor="middle"><text x="792.5" y="988.5">&#915;</text><text x="979.5" y="988.5">X</text><text x="1049" y="988.5">K</text><text x="1252.5" y="988.5">&#915;</text><text x="1419" y="988.5">L</text></g>
<text transform="translate(724.1,608.6) rotate(-90)" font-family="'Liberation Sans', Arial, Helvetica, sans-serif" font-size="44" fill="#000" textLength="261" lengthAdjust="spacingAndGlyphs">Energy (meV)</text>
<text x="1920" y="1024" text-anchor="middle" font-family="'Liberation Sans', Arial, Helvetica, sans-serif" font-size="34" fill="#000">Energy (meV)</text>
<text transform="translate(1711,474) rotate(-90)" text-anchor="middle" font-family="'Liberation Sans', Arial, Helvetica, sans-serif" font-size="33" fill="#000">PDOS (a.u.)</text>
<g font-family="'Liberation Sans', Arial, Helvetica, sans-serif" font-size="50" font-weight="bold" fill="#000"><text x="797" y="48.0">b</text><text x="797" y="366.0">c</text><text x="797" y="676.0">d</text><text x="1590" y="48.0">e</text><text x="1590" y="360.0">f</text><text x="1591" y="680.0">g</text><text x="1747" y="49.0">h</text><text x="1747" y="359.5">i</text><text x="1745" y="681.0">j</text></g>
<g font-family="'Liberation Sans', Arial, Helvetica, sans-serif" font-size="38"><text x="1393" y="43.2" text-anchor="end" fill="#dc161e">Si</text><text x="1396" y="357.1" text-anchor="end" fill="#1010c8">Ge</text><text x="1399" y="671.8" text-anchor="end" fill="#7f18ec">SiGe</text><text x="2090" y="49.3" text-anchor="end" fill="#dc161e">Si</text><text x="2091" y="361" text-anchor="end" fill="#1010c8">Ge</text><text x="2090" y="676" text-anchor="end" fill="#7f18ec">SiGe</text></g>
<defs>
<linearGradient id="siG" gradientUnits="userSpaceOnUse" x1="15" y1="240" x2="200" y2="190"><stop offset="0" stop-color="#d84028"/><stop offset="0.5" stop-color="#e84e22"/><stop offset="0.8" stop-color="#ee6a24"/><stop offset="1" stop-color="#f09a38"/></linearGradient>
<linearGradient id="qdG" gradientUnits="userSpaceOnUse" x1="160" y1="0" x2="360" y2="0"><stop offset="0" stop-color="#d070e0"/><stop offset="0.3" stop-color="#c466ec"/><stop offset="1" stop-color="#c048f0"/></linearGradient>
<linearGradient id="coneG" x1="0" y1="0" x2="1" y2="0"><stop offset="0" stop-color="#eeedc6"/><stop offset="0.5" stop-color="#f5f4d8"/><stop offset="1" stop-color="#efeec9"/></linearGradient>
<linearGradient id="ringTop" x1="0" y1="0" x2="1" y2="0"><stop offset="0" stop-color="#ddae3c"/><stop offset="0.5" stop-color="#dcb436"/><stop offset="1" stop-color="#dea63a"/></linearGradient>
<linearGradient id="ringSide" x1="0" y1="0" x2="1" y2="0"><stop offset="0" stop-color="#c8782a"/><stop offset="0.5" stop-color="#d68e38"/><stop offset="1" stop-color="#c8782c"/></linearGradient>
<linearGradient id="holeWall" x1="0" y1="0" x2="1" y2="0"><stop offset="0" stop-color="#a8a830"/><stop offset="0.5" stop-color="#c8b440"/><stop offset="1" stop-color="#d0b048"/></linearGradient>
<linearGradient id="plateG" x1="0" y1="0" x2="1" y2="1"><stop offset="0" stop-color="#cfae78"/><stop offset="0.45" stop-color="#b29558"/><stop offset="1" stop-color="#d4b47e"/></linearGradient>
<linearGradient id="prismFront" gradientUnits="userSpaceOnUse" x1="100" y1="630" x2="420" y2="900"><stop offset="0" stop-color="#1b507e"/><stop offset="0.12" stop-color="#184874"/><stop offset="0.5" stop-color="#15406a"/><stop offset="1" stop-color="#12375e"/></linearGradient>
<linearGradient id="prismSide" gradientUnits="userSpaceOnUse" x1="280" y1="590" x2="420" y2="760"><stop offset="0" stop-color="#0d2a32"/><stop offset="0.4" stop-color="#12324e"/><stop offset="0.75" stop-color="#163f68"/><stop offset="1" stop-color="#184674"/></linearGradient>
<linearGradient id="innerG" gradientUnits="userSpaceOnUse" x1="100" y1="0" x2="295" y2="0"><stop offset="0" stop-color="#18a828"/><stop offset="0.3" stop-color="#28c030"/><stop offset="0.65" stop-color="#16a020"/><stop offset="1" stop-color="#0a3430"/></linearGradient>
<filter id="glow" x="-20%" y="-30%" width="140%" height="160%"><feGaussianBlur stdDeviation="2.4" result="b"/><feMerge><feMergeNode in="b"/><feMergeNode in="b"/><feMergeNode in="SourceGraphic"/></feMerge></filter>
<filter id="glowO" x="-20%" y="-30%" width="140%" height="160%"><feGaussianBlur stdDeviation="1.5" result="b"/><feMerge><feMergeNode in="b"/><feMergeNode in="SourceGraphic"/></feMerge></filter>
</defs>
<path d="M164,246 L238,254 L389,392 L4,408 Z" fill="url(#coneG)"/>
<path d="M147.4,23.7 Q185.5,19.5 223.6,23.3 L191.6,209.5 Z" fill="#1cfb1c"/>
<path d="M191.9,219.6 L173.4,490 L232.6,490 Z" fill="#7cec1e"/>
<g stroke="url(#siG)" stroke-width="4" stroke-dasharray="3 1.4" fill="none"><line x1="16.0" y1="231.0" x2="104.0" y2="184.5"/><line x1="25.7" y1="231.9" x2="112.0" y2="184.9"/><line x1="35.4" y1="232.9" x2="120.0" y2="185.4"/><line x1="45.1" y1="233.8" x2="128.0" y2="185.8"/><line x1="54.9" y1="234.7" x2="136.0" y2="186.2"/><line x1="64.6" y1="235.6" x2="144.0" y2="186.6"/><line x1="74.3" y1="236.6" x2="152.0" y2="187.1"/><line x1="84.0" y1="237.5" x2="160.0" y2="187.5"/><line x1="93.7" y1="238.4" x2="168.0" y2="187.9"/><line x1="103.4" y1="239.4" x2="176.0" y2="188.4"/><line x1="113.1" y1="240.3" x2="184.0" y2="188.8"/><line x1="122.9" y1="241.2" x2="192.0" y2="189.2"/><line x1="132.6" y1="242.1" x2="200.0" y2="189.6"/><line x1="142.3" y1="243.1" x2="208.0" y2="190.1"/><line x1="152.0" y1="244.0" x2="216.0" y2="190.5"/></g><g stroke="url(#qdG)" stroke-width="4.8" stroke-dasharray="2.6 0.6" fill="none"><line x1="169.8" y1="241.0" x2="235.0" y2="191.8"/><line x1="188.4" y1="242.0" x2="250.5" y2="191.8"/><line x1="207.0" y1="243.1" x2="267.1" y2="192.8"/><line x1="225.6" y1="244.3" x2="283.7" y2="193.8"/><line x1="244.2" y1="245.4" x2="300.3" y2="194.4"/><line x1="262.9" y1="246.5" x2="316.8" y2="195.4"/><line x1="281.5" y1="247.6" x2="333.4" y2="196.4"/><line x1="300.1" y1="248.8" x2="352.1" y2="196.9"/><line x1="157" y1="241" x2="222" y2="192"/></g><line x1="356" y1="203.5" x2="312" y2="238" stroke="#c050ec" stroke-width="2.4" stroke-dasharray="2 1"/><g fill="#9a62c0"><circle cx="165.0" cy="244.6" r="1.6"/><circle cx="183.7" cy="245.8" r="1.6"/><circle cx="202.4" cy="247.0" r="1.6"/><circle cx="221.1" cy="248.2" r="1.6"/><circle cx="239.8" cy="249.4" r="1.6"/><circle cx="258.5" cy="250.6" r="1.6"/><circle cx="277.2" cy="251.8" r="1.6"/><circle cx="295.9" cy="253.0" r="1.6"/></g>
<g transform="rotate(-1.2 197 403)">
<path d="M5,403 A192,61 0 0 0 389,403 L389,428 A192,61 0 0 1 5,428 Z" fill="url(#ringSide)"/>
<path d="M5,403 A192,61 0 1 1 389,403 A192,61 0 1 1 5,403 Z M83,406 A114,30 0 1 0 311,406 A114,30 0 1 0 83,406 Z" fill="url(#ringTop)" fill-rule="evenodd"/>
<clipPath id="holeClip"><ellipse cx="197" cy="406" rx="114" ry="30"/></clipPath>
<g clip-path="url(#holeClip)"><rect x="80" y="370" width="240" height="80" fill="url(#holeWall)"/><ellipse cx="203" cy="414" rx="112" ry="25" fill="#f5f4dc"/></g>
</g>
<clipPath id="beamClip"><path d="M0,200 H400 V380 H311 A114,30 0 0 1 83,405 H0 Z"/><ellipse cx="197" cy="406" rx="114" ry="30"/></clipPath>
<path d="M191.9,219.6 L173.4,490 L232.6,490 Z" fill="#6cf01a" clip-path="url(#beamClip)"/>
<path id="haadfPath" d="M76,478 Q180,497 285,477" fill="none"/>
<text font-family="'Liberation Sans', Arial, Helvetica, sans-serif" font-size="34" font-weight="bold" fill="#fff" filter="url(#glowO)"><textPath href="#haadfPath" textLength="208" lengthAdjust="spacingAndGlyphs">HAADF Detector</textPath></text>
<path d="M172.5,487 L233.5,487 L232.5,524 L171.5,524 Z" fill="#5cf038"/>
<path d="M153.4,488.9 L303.6,497.8 L261.3,567.9 L93.4,549 Z" fill="url(#plateG)"/>
<path d="M171.2,488 L232.4,492 L232.4,523 L171.2,523 Z" fill="#50f03a" opacity="0.9"/>
<ellipse cx="202.4" cy="524" rx="31" ry="10" fill="#44e83a" opacity="0.8"/>
<ellipse cx="202.4" cy="523.4" rx="26" ry="6.5" fill="#30d02a" stroke="#0a0a0a" stroke-width="2.6"/>
<ellipse cx="202.4" cy="523.4" rx="21" ry="3.8" fill="#3cea34"/>
<line x1="361.5" y1="504.5" x2="256" y2="518.5" stroke="#6aac52" stroke-width="3.6"/>
<path d="M247,520.5 L259.5,512.5 L261.5,526 Z" fill="#6aac52"/>
<line x1="290" y1="124.5" x2="212" y2="198" stroke="#64a64c" stroke-width="3.4"/>
<path d="M204.5,206.5 L208.5,192 L219.5,201.5 Z" fill="#64a64c"/>
<path d="M258.7,631.4 L299.3,562.3 C306,606 330,650 368,685 C395,705 420,712 444.5,714.5 L422,798 C385,782 345,760 320,735 C290,705 266,670 258.7,631.4 Z" fill="url(#prismSide)"/>
<path d="M94.2,615.1 L258.7,631.4 C266,670 290,705 320,735 C345,760 385,782 422,798 L415,937 C330,920 250,882 195,834 C140,785 105,720 94.2,615.1 Z" fill="url(#prismFront)"/>
<path d="M94.2,615.1 L140.9,558.3 L299.3,562.3 L258.7,631.4 Z" fill="#173f58"/>
<path d="M102,610 L146,562 L292,566 L254,624 Z" fill="url(#innerG)"/>
<path d="M181,559 L230,560 L230,623 L183,623 Z" fill="#12f020"/>
<path d="M94.2,615.1 L258.7,631.4 L254,624 L102,610 Z" fill="#1f6486"/>
<path d="M258.7,631.4 L299.3,562.3 L292,566 L254,624 Z" fill="#1c5470"/>
<path d="M443.5,714.5 L442.3,757 L438.7,858.3 L412,939 L410.9,936.9 L418,857 L419.3,801.5 L431.4,755.6 Z" fill="#0c1a2c"/>
<polygon points="426.6,755.6 442.3,757 442,781 421.8,781" fill="#c0101c"/>
<polygon points="421.8,781 441.5,781 440.5,805 419.3,805" fill="#a87418"/>
<polygon points="419.3,805 440.5,805 439.5,833 418.1,833" fill="#a59614"/>
<polygon points="418.1,833 439.5,833 438.7,858.3 418,858.3" fill="#1e9e1e"/>
<path d="M442,757.0 L522.1,766.0 L517.5,790.0 L436,781.0 Z" fill="#f8cfd2"/>
<path d="M442,781.0 L517.5,790.0 L512.9,814.0 L436,805.0 Z" fill="#f8efc6"/>
<path d="M442,805.0 L512.9,814.0 L510.8,842.0 L436,833.0 Z" fill="#faf4cc"/>
<path d="M442,833.0 L510.8,842.0 L509.2,867.0 L436,858.0 Z" fill="#d8f6d4"/>
<path d="M442,858.0 L509.2,867.0 L506.9,902.0 L436,893.0 Z" fill="#d8d8f2"/>
<path d="M526,764 C530,770 533,778 549,783 L528,783 Z" fill="#d84a1a"/>
<path d="M525,784 C531,790 538,800 554,815 L541,817 L546,826 L522,826 Z" fill="#e07818"/>
<path d="M521,834 C525,842 540,846 573,849 L520,852 Z" fill="#c8b418"/>
<path d="M519,858 C521,866 530,872 545,876 L517,878 Z" fill="#3ab020"/>
<path d="M516,884 C518,892 560,897 624,902 L515,897 Z" fill="#1a3ab0"/>
<path d="M532,721 L529,722 Q520,780 512,816 Q507,880 503.5,950 L522.5,816 Q528,780 532,721 Z" fill="#2a2a2a"/>
<path d="M591,763.5 Q612.5,762.5 612.5,770 L612.5,820 Q613,826.3 620,826.3 L631.5,826.3 M620,826.3 Q613,826.3 612.5,833 L612.5,883 Q612.5,889.5 591,889.5" fill="none" stroke="#000" stroke-width="3.2"/>
<g font-family="'Liberation Sans', Arial, Helvetica, sans-serif" fill="#000"><text x="253.5" y="103.4" font-size="26" textLength="273" lengthAdjust="spacingAndGlyphs">33 mrad Electron Probe</text><text x="388.5" y="506.1" font-size="26" textLength="168.8" lengthAdjust="spacingAndGlyphs">25 mrad EELS</text><text x="362.8" y="537.9" font-size="26" textLength="219.7" lengthAdjust="spacingAndGlyphs">Collection Aperture</text><text x="511.8" y="713" font-size="26" textLength="179.5" lengthAdjust="spacingAndGlyphs">Pixelated EELS</text><text x="552" y="744.2" font-size="26" textLength="99" lengthAdjust="spacingAndGlyphs">Detector</text><text x="641" y="835" font-size="26" font-weight="bold" font-style="italic">E<tspan font-size="19" dy="6">0</tspan><tspan dy="-6"> - &#916;E</tspan></text><text x="641" y="922" font-size="26" font-weight="bold" font-style="italic">E<tspan font-size="19" dy="6">0</tspan></text></g>
<text x="16" y="47.9" font-family="'Liberation Sans', Arial, Helvetica, sans-serif" font-size="50" font-weight="bold" fill="#000">a</text>
<text x="34.3" y="275.6" font-family="'Liberation Sans', Arial, Helvetica, sans-serif" font-size="34" font-weight="bold" fill="#b01820" textLength="26.5" lengthAdjust="spacingAndGlyphs">Si</text>
<text x="328.7" y="273.2" font-family="'Liberation Sans', Arial, Helvetica, sans-serif" font-size="32" font-weight="bold" fill="#6e2d96">QD</text>
<g transform="rotate(9 255 790)" font-family="'Liberation Sans', Arial, Helvetica, sans-serif" font-size="35" fill="#fff" filter="url(#glow)" text-anchor="middle"><text x="254" y="786" textLength="140" lengthAdjust="spacingAndGlyphs">Magnetic</text><text x="254" y="822">Prism</text></g>
</svg>
</body></html>
